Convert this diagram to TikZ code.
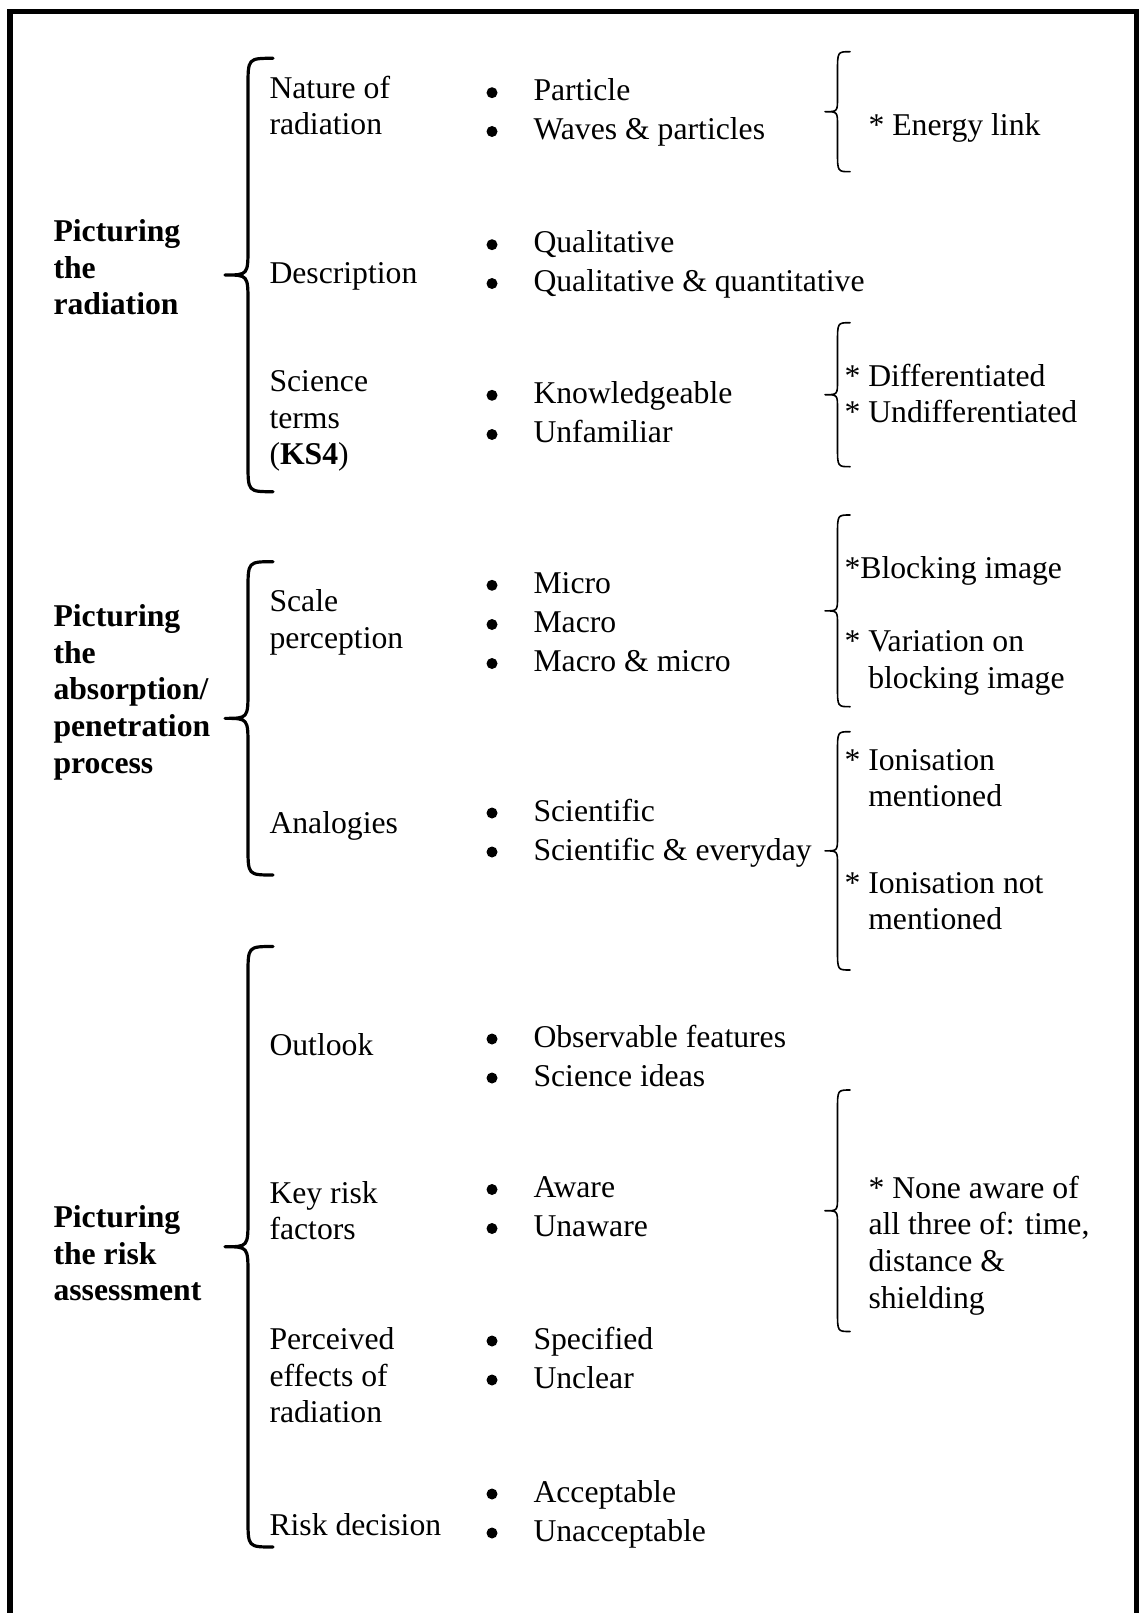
\documentclass[tikz,border=0pt]{standalone}
\usepackage{fontspec}
\setmainfont{Liberation Serif}
\usetikzlibrary{calc}

% stacked lines, baseline = first line
\newcommand{\stk}[1]{\begin{tabular}[t]{@{}l@{}}#1\end{tabular}}
% curly brace: style, tip x, stem x, end x, top y, bottom y, end radius, middle radius
\newcommand{\curlybrace}[8]{%
  \draw[#1] (#4,#5) .. controls (#3,#5) .. (#3,{#5+#7})
    -- (#3,{(#5+#6)/2-#8}) .. controls (#3,{(#5+#6)/2}) .. (#2,{(#5+#6)/2})
    .. controls (#3,{(#5+#6)/2}) .. (#3,{(#5+#6)/2+#8})
    -- (#3,{#6-#7}) .. controls (#3,#6) .. (#4,#6);}
% list item: name, baseline y, text (with its bullet)
\newcommand{\bitem}[3]{%
  \node[txt] (#1) at (533.5,#2) {#3};
  \node[dot] (#1b) at ([xshift=-41.5pt,yshift=8pt]#1.base west) {};}

\tikzset{
  txt/.style={inner sep=0pt, outer sep=0pt, anchor=base west,
    font=\fontsize{31.7}{36.6}\selectfont},
  head/.style={txt, font=\fontsize{31.7}{36.6}\selectfont\bfseries},
  dot/.style={circle, fill=black, inner sep=0pt, minimum size=11pt},
  bigbrace/.style={line width=3.2pt, line cap=round, line join=round},
  smallbrace/.style={line width=1.6pt, line cap=round, line join=round},
  frame/.style={line width=5.5pt, line join=miter}
}

\begin{document}
\begin{tikzpicture}[x=1pt, y=-1pt]
\useasboundingbox (0,0) rectangle (1138,1613);
\fill[white] (0,0) rectangle (1138,1613);

% outer frame (open at the bottom)
\draw[frame] (10,1625) -- (10,11.5) -- (1137,11.5) -- (1137,1625);

% main headings
\node[head] (h1) at (53.5,241.7) {\stk{Picturing\\the\\radiation}};
\node[head] (h2) at (53.5,626.7) {\stk{Picturing\\the\\absorption/\\penetration\\process}};
\node[head] (h3) at (53.5,1227.5) {\stk{Picturing\\the risk\\assessment}};

% large braces
\curlybrace{bigbrace}{225}{248}{273}{58.3}{491.7}{28}{28}
\curlybrace{bigbrace}{225}{248}{273}{561.7}{875}{28}{28}
\curlybrace{bigbrace}{225}{248}{273}{946.5}{1547}{28}{28}

% categories
\node[txt] (c11) at (269.5,98.3) {\stk{Nature of\\radiation}};
\node[txt] (c12) at (269.5,283.3) {Description};
\node[txt] (c13) at (269.5,391.7) {\stk{Science\\terms\\(\textbf{KS4})}};
\node[txt] (c21) at (269.5,611.7) {\stk{Scale\\perception}};
\node[txt] (c22) at (269.5,833.3) {Analogies};
\node[txt] (c31) at (269.5,1055) {Outlook};
\node[txt] (c32) at (269.5,1203) {\stk{Key risk\\factors}};
\node[txt] (c33) at (269.5,1349.5) {\stk{Perceived\\effects of\\radiation}};
\node[txt] (c34) at (269.5,1535) {Risk decision};

% bullet items
\bitem{i11a}{100.7}{Particle}
\bitem{i11b}{139.5}{Waves \& particles}
\bitem{i12a}{252.7}{Qualitative}
\bitem{i12b}{291.5}{Qualitative \& quantitative}
\bitem{i13a}{403.3}{Knowledgeable}
\bitem{i13b}{442.5}{Unfamiliar}
\bitem{i21a}{593.3}{Micro}
\bitem{i21b}{632.5}{Macro}
\bitem{i21c}{671.5}{Macro \& micro}
\bitem{i22a}{821}{Scientific}
\bitem{i22b}{860}{Scientific \& everyday}
\bitem{i31a}{1047}{Observable features}
\bitem{i31b}{1086}{Science ideas}
\bitem{i32a}{1197.5}{Aware}
\bitem{i32b}{1236.5}{Unaware}
\bitem{i33a}{1349}{Specified}
\bitem{i33b}{1388}{Unclear}
\bitem{i34a}{1502}{Acceptable}
\bitem{i34b}{1541}{Unacceptable}

% small braces
\curlybrace{smallbrace}{825}{837.5}{850}{51.7}{171.7}{20}{14}
\curlybrace{smallbrace}{825}{837.5}{850}{322.7}{466.7}{20}{14}
\curlybrace{smallbrace}{825}{837.5}{850}{515}{706.7}{20}{14}
\curlybrace{smallbrace}{825}{837.5}{850}{731.7}{970}{20}{14}
\curlybrace{smallbrace}{825}{837.5}{850}{1090}{1331.5}{20}{14}

% notes
\node[txt] (n1) at (868.5,136) {* Energy link};
\node[txt] (n2) at (844.5,386) {\stk{* Differentiated\\{}* Undifferentiated}};
\node[txt] (n3) at (844.5,578.3) {*Blocking image};
\node[txt] (n4) at (844.5,651.7) {\stk{* Variation on\\\hphantom{*\ }blocking image}};
\node[txt] (n5) at (844.5,770) {\stk{* Ionisation\\\hphantom{*\ }mentioned}};
\node[txt] (n6) at (844.5,893.3) {\stk{* Ionisation not\\\hphantom{*\ }mentioned}};
\node[txt] (n7) at (868.5,1198.3) {\stk{* None aware of\\all three of: time,\\distance \&\\shielding}};
\end{tikzpicture}
\end{document}
